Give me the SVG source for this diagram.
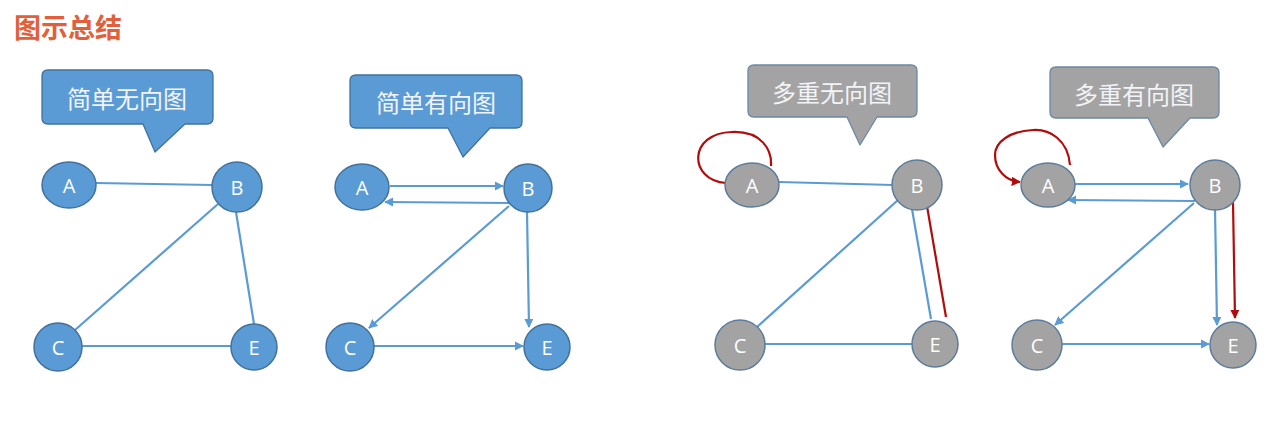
<svg xmlns="http://www.w3.org/2000/svg" width="1272" height="432" viewBox="0 0 1272 432">
<style>
.title{font-family:"Noto Sans CJK SC","Noto Sans",sans-serif;font-weight:bold;font-size:27px;fill:#e35f3b}
.ct{font-family:"Noto Sans CJK SC",sans-serif;font-size:24px;fill:#f2f4f7;text-anchor:middle;dominant-baseline:central}
.cb{fill:#5b9bd5;stroke:#41719c;stroke-width:1.3;stroke-linejoin:round}
.cg{fill:#a3a3a3;stroke:#6c88a6;stroke-width:1.3;stroke-linejoin:round}
.nb{fill:#5b9bd5;stroke:#41719c;stroke-width:1.5}
.ng{fill:#a3a3a3;stroke:#5d7c9c;stroke-width:1.5}
.nl{font-family:"Open Sans","Liberation Sans",sans-serif;font-size:20px;fill:#ffffff;text-anchor:middle;dominant-baseline:central}
.e{stroke:#5b9bd5;stroke-width:2.2;fill:none}
.r{stroke:#b00c0c;stroke-width:2.2;fill:none}
</style>
<defs>
<marker id="ab" viewBox="0 0 10 10" refX="9" refY="5" markerWidth="4.2" markerHeight="4.2" orient="auto" markerUnits="strokeWidth"><path d="M0,0 L10,5 L0,10 z" fill="#5b9bd5"/></marker>
<marker id="ar" viewBox="0 0 10 10" refX="9" refY="5" markerWidth="4.2" markerHeight="4.2" orient="auto" markerUnits="strokeWidth"><path d="M0,0 L10,5 L0,10 z" fill="#b00c0c"/></marker>
</defs>
<rect width="1272" height="432" fill="#ffffff"/>
<text class="title" x="14" y="38">图示总结</text>

<!-- callouts -->
<g id="callout1"><path class="cb" d="M48,70 H207 Q213,70 213,76 V118 Q213,124 207,124 H185 L155,152 L143,124 H48 Q42,124 42,118 V76 Q42,70 48,70 Z"/><text class="ct" x="127" y="97">简单无向图</text></g>
<g id="callout2"><path class="cb" d="M356,75 H516 Q522,75 522,81 V122 Q522,128 516,128 H490 L463,157 L448,128 H356 Q350,128 350,122 V81 Q350,75 356,75 Z"/><text class="ct" x="436" y="101">简单有向图</text></g>
<g id="callout3"><path class="cg" d="M754,65 H911 Q917,65 917,71 V111 Q917,117 911,117 H877 L860,145 L847,117 H754 Q748,117 748,111 V71 Q748,65 754,65 Z"/><text class="ct" x="832" y="91">多重无向图</text></g>
<g id="callout4"><path class="cg" d="M1056,67 H1213 Q1219,67 1219,73 V112 Q1219,118 1213,118 H1190 L1163,147 L1148,118 H1056 Q1050,118 1050,112 V73 Q1050,67 1056,67 Z"/><text class="ct" x="1134" y="93">多重有向图</text></g>

<g id="connectors">
<!-- panel 1 -->
<line class="e" x1="96" y1="183" x2="212" y2="185"/>
<line class="e" x1="218" y1="204" x2="75" y2="330"/>
<line class="e" x1="236" y1="212" x2="254" y2="324"/>
<line class="e" x1="82" y1="346" x2="231" y2="346"/>
<!-- panel 2 -->
<line class="e" x1="390" y1="186" x2="503" y2="186" marker-end="url(#ab)"/>
<line class="e" x1="511" y1="203" x2="385" y2="202" marker-end="url(#ab)"/>
<line class="e" x1="509" y1="206" x2="369" y2="328" marker-end="url(#ab)"/>
<line class="e" x1="527" y1="212" x2="529" y2="327" marker-end="url(#ab)"/>
<line class="e" x1="374" y1="346" x2="523" y2="346" marker-end="url(#ab)"/>
<!-- panel 3 -->
<path class="r" d="M726,183 C688,180 688,133 732,132 C762,131 772,150 771,166"/>
<line class="e" x1="779" y1="182" x2="893" y2="185"/>
<line class="e" x1="898" y1="200" x2="757" y2="327"/>
<line class="e" x1="912" y1="209" x2="931" y2="319"/>
<line class="r" x1="927" y1="206" x2="946" y2="317"/>
<line class="e" x1="764" y1="344" x2="913" y2="344"/>
<!-- panel 4 -->
<path class="r" d="M1070,165 C1068,140 1050,129 1033,130 C1010,131 995,142 995,155 C995,170 1006,181 1020,182" marker-end="url(#ar)"/>
<line class="e" x1="1075" y1="184" x2="1188" y2="184" marker-end="url(#ab)"/>
<line class="e" x1="1195" y1="201" x2="1068" y2="200" marker-end="url(#ab)"/>
<line class="e" x1="1194" y1="203" x2="1055" y2="325" marker-end="url(#ab)"/>
<line class="e" x1="1215" y1="209" x2="1217" y2="325" marker-end="url(#ab)"/>
<line class="r" x1="1233" y1="202" x2="1235" y2="318" marker-end="url(#ar)"/>
<line class="e" x1="1062" y1="344" x2="1209" y2="344" marker-end="url(#ab)"/>
</g>

<!-- panel 1 nodes -->
<g id="p1-A"><ellipse class="nb" cx="69" cy="185" rx="27" ry="23"/><text class="nl" x="69" y="185">A</text></g>
<g id="p1-B"><circle class="nb" cx="237" cy="187" r="25"/><text class="nl" x="237" y="187">B</text></g>
<g id="p1-C"><circle class="nb" cx="58" cy="347" r="24"/><text class="nl" x="58" y="347">C</text></g>
<g id="p1-E"><circle class="nb" cx="254" cy="347" r="23"/><text class="nl" x="254" y="347">E</text></g>
<!-- panel 2 nodes -->
<g id="p2-A"><ellipse class="nb" cx="362" cy="187" rx="27" ry="23"/><text class="nl" x="362" y="187">A</text></g>
<g id="p2-B"><circle class="nb" cx="528" cy="188" r="24"/><text class="nl" x="528" y="188">B</text></g>
<g id="p2-C"><circle class="nb" cx="350" cy="347" r="24"/><text class="nl" x="350" y="347">C</text></g>
<g id="p2-E"><circle class="nb" cx="547" cy="347" r="23"/><text class="nl" x="547" y="347">E</text></g>
<!-- panel 3 nodes -->
<g id="p3-A"><ellipse class="ng" cx="752" cy="185" rx="27" ry="22"/><text class="nl" x="752" y="185">A</text></g>
<g id="p3-B"><circle class="ng" cx="917" cy="185" r="25"/><text class="nl" x="917" y="185">B</text></g>
<g id="p3-C"><circle class="ng" cx="740" cy="345" r="25"/><text class="nl" x="740" y="345">C</text></g>
<g id="p3-E"><circle class="ng" cx="935" cy="344" r="23"/><text class="nl" x="935" y="344">E</text></g>
<!-- panel 4 nodes -->
<g id="p4-A"><ellipse class="ng" cx="1048" cy="185" rx="27" ry="22"/><text class="nl" x="1048" y="185">A</text></g>
<g id="p4-B"><circle class="ng" cx="1215" cy="185" r="25"/><text class="nl" x="1215" y="185">B</text></g>
<g id="p4-C"><circle class="ng" cx="1037" cy="345" r="25"/><text class="nl" x="1037" y="345">C</text></g>
<g id="p4-E"><circle class="ng" cx="1233" cy="345" r="23"/><text class="nl" x="1233" y="345">E</text></g>
</svg>
